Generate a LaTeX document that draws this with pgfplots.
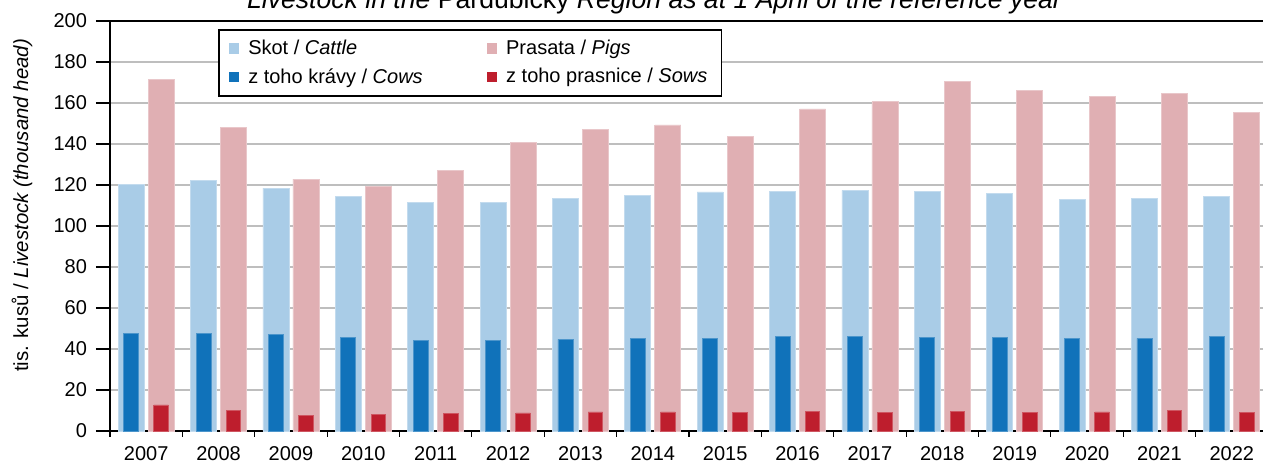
\documentclass[border=0pt]{standalone}
\usepackage{fontspec}
\setmainfont{Liberation Sans}
\usepackage{pgfplots}
\usepackage{pgfplotstable}
\pgfplotsset{compat=1.18}

\definecolor{cattle}{RGB}{169,204,231}
\definecolor{pigs}{RGB}{224,175,179}
\definecolor{cows}{RGB}{16,114,186}
\definecolor{sows}{RGB}{190,30,45}
\definecolor{gridc}{RGB}{190,190,190}

% idx: 0 = 2007 ... 15 = 2022, values in thousand head
\pgfplotstableread{
idx cattle pigs  cows sows
0   120.3  171.4 47.7 12.7
1   122.0  148.2 47.5 10.1
2   118.5  122.8 47.0 7.7
3   114.4  119.3 45.6 8.0
4   111.3  127.3 44.1 8.7
5   111.5  140.8 44.2 8.8
6   113.3  147.0 44.7 9.3
7   114.9  149.3 45.2 9.3
8   116.6  143.6 45.2 9.1
9   116.9  157.1 46.0 9.6
10  117.4  160.7 46.2 9.1
11  116.9  170.3 45.7 9.5
12  115.8  166.2 45.7 9.0
13  113.1  163.1 45.1 9.3
14  113.3  164.6 45.2 10.0
15  114.3  155.4 46.2 9.0
}\livestock

\begin{document}
\begin{tikzpicture}
  \begin{axis}[
      scale only axis,
      width=579pt, height=205pt,
      clip=false,
      xmin=-0.5, xmax=15.5,
      ymin=0, ymax=200,
      ytick={0,20,...,200},
      xtick={0,...,15},
      xticklabels={2007,2008,2009,2010,2011,2012,2013,2014,2015,2016,2017,2018,2019,2020,2021,2022},
      minor xtick={-0.5,0.5,...,15.5},
      major x tick style={draw=none},
      xtick pos=bottom, ytick pos=left,
      tick align=outside,
      major tick length=7pt, minor tick length=3pt,
      tick style={black, line width=0.6pt},
      axis line style={black, line width=1pt},
      ymajorgrids,
      grid style={gridc, line width=0.7pt},
      tick label style={font=\fontsize{10}{12}\selectfont},
      xticklabel style={yshift=2.8pt},
      yticklabel style={xshift=-1pt},
      /pgf/number format/assume math mode=true,
      ylabel={tis. kusů / \textit{Livestock (thousand head)}},
      ylabel style={font=\fontsize{10.2}{12}\selectfont, at={(axis description cs:-0.076,0.55)}, anchor=center},
      legend columns=2,
      legend cell align=left,
      legend style={at={(axis description cs:0.0933,0.9805)}, anchor=north west,
        draw=black, line width=0.8pt, fill=white,
        font=\fontsize{10}{12}\selectfont,
        inner xsep=5pt, inner ysep=3pt, row sep=1.5pt,
        /tikz/column 1/.style={column sep=2.5pt},
        /tikz/column 2/.style={column sep=30pt},
        /tikz/column 3/.style={column sep=2.5pt}},
      legend image code/.code={\fill[#1, draw=none] (0pt,-2.6pt) rectangle (5.2pt,2.6pt);},
    ]
    \addplot[ybar, bar width=13pt, bar shift=-7.5pt, fill=cattle, draw=cattle!70!white, line width=0.4pt]
      table[x=idx, y=cattle] {\livestock};
    \addlegendentry{Skot / \textit{Cattle}}
    \addplot[ybar, bar width=13pt, bar shift=7.5pt, fill=pigs, draw=pigs!70!white, line width=0.4pt]
      table[x=idx, y=pigs] {\livestock};
    \addlegendentry{Prasata /\ \textit{Pigs}}
    \addplot[ybar, bar width=7.5pt, bar shift=-7.5pt, fill=cows, draw=cows!75!white, line width=0.4pt]
      table[x=idx, y=cows] {\livestock};
    \addlegendentry{z toho krávy / \textit{Cows}}
    \addplot[ybar, bar width=7.3pt, bar shift=7.5pt, fill=sows, draw=sows!75!white, line width=0.4pt]
      table[x=idx, y=sows] {\livestock};
    \addlegendentry{z toho prasnice / \textit{Sows}}

    \coordinate (bl) at (rel axis cs:0,0);
    \coordinate (tr) at (rel axis cs:1,1);
    \node[anchor=base, font=\fontsize{13.3}{15}\selectfont, yshift=6pt, inner sep=0pt]
      at (axis description cs:0.4706,1)
      {\textit{Livestock in the} Pardubický \textit{Region as at 1 April of the reference year}};
  \end{axis}
  \pgfresetboundingbox
  \useasboundingbox ([xshift=-55pt,yshift=-16pt]bl) rectangle ([xshift=-2.5pt,yshift=10.5pt]tr);
\end{tikzpicture}
\end{document}
